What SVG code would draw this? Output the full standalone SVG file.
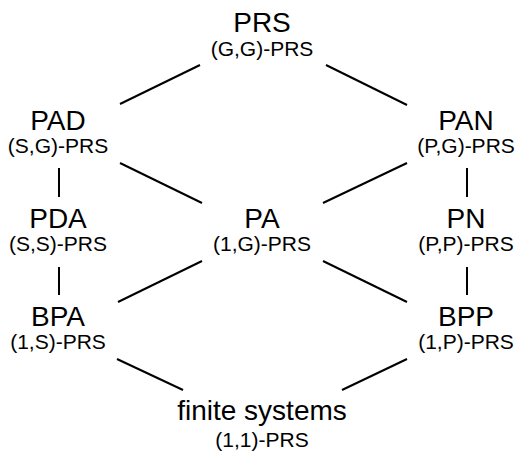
<svg xmlns="http://www.w3.org/2000/svg" width="516" height="454" viewBox="0 0 516 454">
<style>
.t{font-family:"Liberation Sans",Arial,sans-serif;font-size:28px;fill:#000;text-anchor:middle}
.s{font-family:"Liberation Sans",Arial,sans-serif;font-size:21px;fill:#000;text-anchor:middle}
.e{stroke:#000;stroke-width:2;fill:none}
</style>
<rect width="516" height="454" fill="#fff"/>
<g id="edges">
<line class="e" x1="200" y1="65" x2="120" y2="104"/>
<line class="e" x1="326" y1="65" x2="407" y2="105"/>
<line class="e" x1="59" y1="168" x2="59" y2="197"/>
<line class="e" x1="467" y1="168" x2="467" y2="197"/>
<line class="e" x1="120" y1="163" x2="202" y2="203"/>
<line class="e" x1="407" y1="163" x2="323" y2="203"/>
<line class="e" x1="59" y1="267" x2="59" y2="295"/>
<line class="e" x1="467" y1="267" x2="467" y2="295"/>
<line class="e" x1="202" y1="261" x2="118" y2="302"/>
<line class="e" x1="323" y1="261" x2="407" y2="302"/>
<line class="e" x1="117" y1="359" x2="183" y2="390"/>
<line class="e" x1="407" y1="359" x2="342" y2="390"/>
</g>
<g id="PRS"><text class="t" x="262" y="32">PRS</text><text class="s" x="262" y="56">(G,G)-PRS</text></g>
<g id="PAD"><text class="t" x="58" y="130">PAD</text><text class="s" x="58" y="153">(S,G)-PRS</text></g>
<g id="PAN"><text class="t" x="466" y="130">PAN</text><text class="s" x="466" y="153">(P,G)-PRS</text></g>
<g id="PDA"><text class="t" x="58" y="228">PDA</text><text class="s" x="58" y="251">(S,S)-PRS</text></g>
<g id="PA"><text class="t" x="262" y="228">PA</text><text class="s" x="262" y="251">(1,G)-PRS</text></g>
<g id="PN"><text class="t" x="466" y="228">PN</text><text class="s" x="466" y="251">(P,P)-PRS</text></g>
<g id="BPA"><text class="t" x="58" y="326">BPA</text><text class="s" x="58" y="349">(1,S)-PRS</text></g>
<g id="BPP"><text class="t" x="466" y="326">BPP</text><text class="s" x="466" y="349">(1,P)-PRS</text></g>
<g id="finite"><text class="t" x="262" y="420">finite systems</text><text class="s" x="262" y="447">(1,1)-PRS</text></g>
</svg>
